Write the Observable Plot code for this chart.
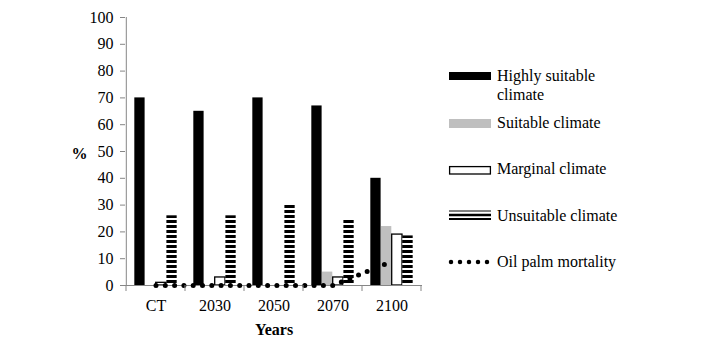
<!DOCTYPE html>
<html><head><meta charset="utf-8">
<script src="https://cdn.jsdelivr.net/npm/d3@7"></script>
<script src="https://cdn.jsdelivr.net/npm/@observablehq/plot@0.6"></script>
<style>body{margin:0;background:#fff;}</style>
</head><body><div id="chart"></div>
<script>
const years = ["CT", "2030", "2050", "2070", "2100"];
const highlySuitable = [70, 65, 70, 67, 40];
const suitable = [0, 0, 0, 5, 22];
const marginal = [1, 3, 0, 3, 19];
const unsuitable = [26, 26, 30, 25, 18.5];
const mortality = [0, 0, 0, 0, 9];
const yTicks = [0, 10, 20, 30, 40, 50, 60, 70, 80, 90, 100];
const seriesNames = ["Highly suitable", "climate", "Suitable climate", "Marginal climate", "Unsuitable climate", "Oil palm mortality"];
const xLabel = "Years";
const yLabel = "%";

const rows = years.map((year, i) => ({
  year, highly: highlySuitable[i], suitable: suitable[i], marginal: marginal[i],
  unsuitable: unsuitable[i], mortality: mortality[i]
}));

const W = 718, H = 361, ML = 125, MR = 296, MT = 17, MB = 76;
const step = (W - ML - MR) / years.length;
const outer = step * 0.14;
const bw = (step - 2 * outer) / 4;
const ins = (i) => ({insetLeft: outer + i * bw, insetRight: step - outer - (i + 1) * bw});
const axisGray = "#868686";
const fontFam = "'Liberation Serif', 'Times New Roman', serif";

const plot = Plot.plot({
  width: W, height: H,
  marginLeft: ML, marginRight: MR, marginTop: MT, marginBottom: MB,
  style: {fontFamily: fontFam, fontSize: "16px", color: "black", background: "white"},
  x: {domain: years, padding: 0, label: null},
  y: {domain: [0, 100], label: null},
  marks: [
    Plot.barY(rows, {x: "year", y: "highly", fill: "black", ...ins(0)}),
    Plot.barY(rows.filter(d => d.suitable > 0), {x: "year", y: "suitable", fill: "#bfbfbf", ...ins(1)}),
    Plot.barY(rows.filter(d => d.marginal > 0), {x: "year", y: "marginal", fill: "white", stroke: "black", strokeWidth: 1.3, ...ins(2)}),
    Plot.barY(rows, {x: "year", y: "unsuitable", fill: "url(#stripes)", ...ins(3)}),
    Plot.ruleY([0], {stroke: axisGray}),
    Plot.ruleX([years[0]], {dx: -step / 2, y1: 0, y2: 100, stroke: axisGray}),
    Plot.line(rows, {x: "year", y: "mortality", stroke: "black", strokeWidth: 5, strokeDasharray: "0 9.3", strokeLinecap: "round"}),
    Plot.axisY({ticks: yTicks, tickSize: 5, tickPadding: 7, stroke: axisGray, label: null, fontSize: 16}),
    Plot.axisX({tickSize: 0, tickPadding: 14, label: null, fontSize: 16}),
    Plot.text([xLabel], {frameAnchor: "bottom", dy: 44, lineAnchor: "middle", fontWeight: "bold", fontSize: 16}),
    Plot.text([yLabel], {frameAnchor: "left", dx: -54, dy: 2, lineAnchor: "middle", fontWeight: "bold", fontSize: 16})
  ]
});

const svg = d3.select(plot);
svg.insert("defs", ":first-child").html(
  '<pattern id="stripes" patternUnits="userSpaceOnUse" width="4" height="5">' +
  '<rect width="4" height="5" fill="white"/><rect width="4" height="3" fill="black"/></pattern>');

// category boundary ticks on the x axis
const xs = plot.scale("x"), ys = plot.scale("y");
const y0 = ys.apply(0);
const bounds = years.map(y => xs.apply(y)).concat([xs.apply(years[years.length - 1]) + xs.bandwidth]);
svg.append("g").selectAll("line").data(bounds).join("line")
  .attr("x1", d => d).attr("x2", d => d).attr("y1", y0).attr("y2", y0 + 6)
  .attr("stroke", axisGray);

// legend
const lg = svg.append("g").attr("font-family", fontFam).attr("font-size", 16).attr("text-anchor", "start");
const lx = 449, lw = 42, tx = 497;
lg.append("rect").attr("x", lx).attr("y", 72).attr("width", lw).attr("height", 8).attr("fill", "black");
lg.append("rect").attr("x", lx).attr("y", 119).attr("width", lw).attr("height", 9).attr("fill", "#bfbfbf");
lg.append("rect").attr("x", lx + 0.6).attr("y", 166.6).attr("width", lw - 1.2).attr("height", 7.4).attr("fill", "white").attr("stroke", "black").attr("stroke-width", 1.3);
[[211, 1], [215, 2.4], [219, 2]].forEach(([y, w]) =>
  lg.append("line").attr("x1", lx).attr("x2", lx + lw).attr("y1", y).attr("y2", y).attr("stroke", "black").attr("stroke-width", w));
lg.append("line").attr("x1", lx + 2).attr("x2", lx + lw - 2).attr("y1", 262).attr("y2", 262)
  .attr("stroke", "black").attr("stroke-width", 4.5).attr("stroke-dasharray", "0 9").attr("stroke-linecap", "round");
const textYs = [81, 100, 128, 174, 221, 267];
seriesNames.forEach((t, i) => lg.append("text").attr("x", tx).attr("y", textYs[i]).attr("fill", "black").attr("text-anchor", "start").text(t));

document.getElementById("chart").appendChild(plot);
</script>
</body></html>
